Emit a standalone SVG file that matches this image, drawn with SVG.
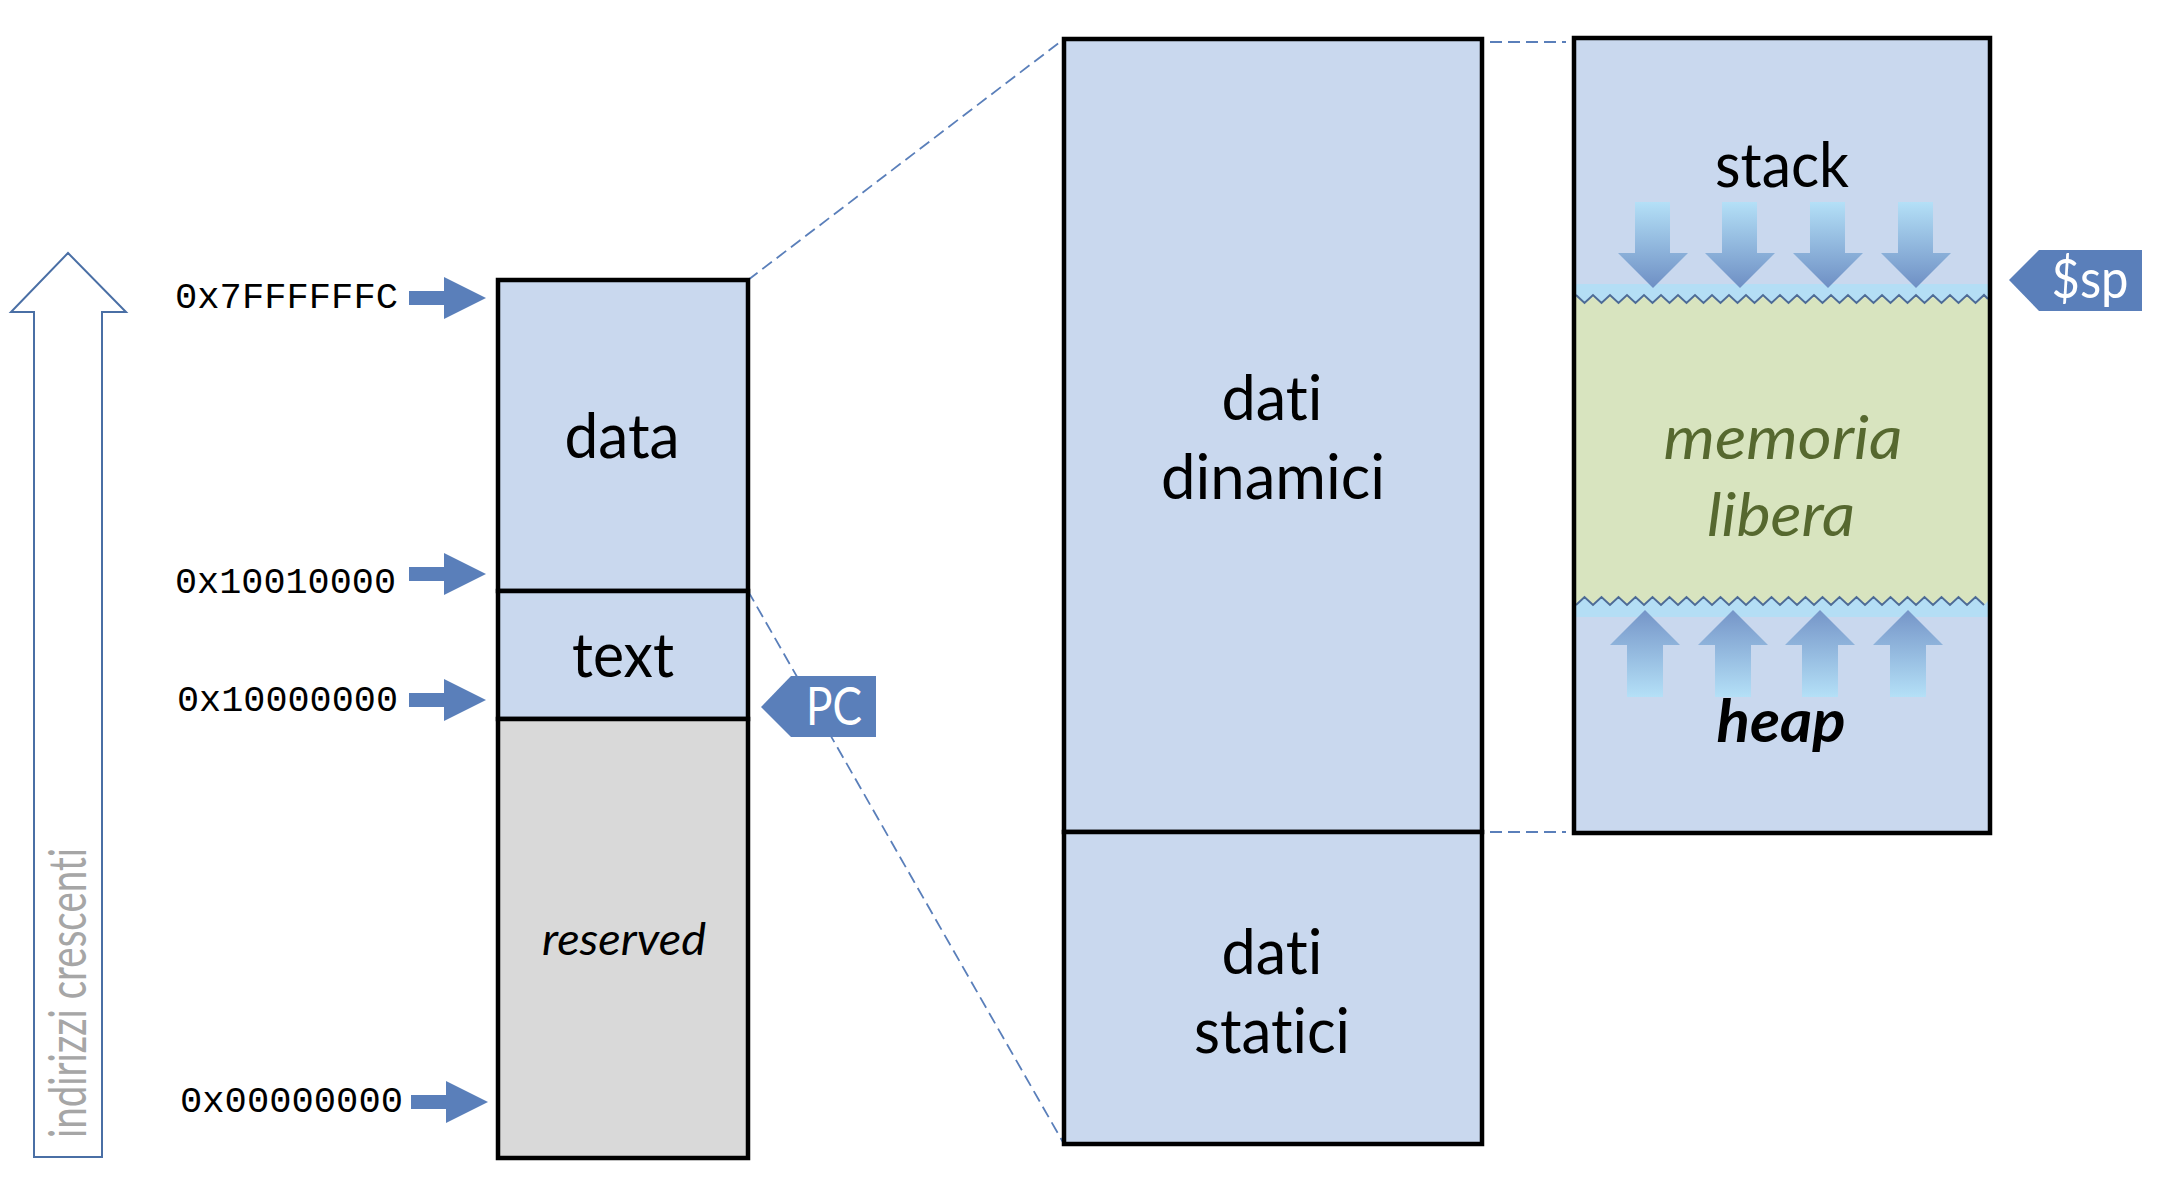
<svg xmlns="http://www.w3.org/2000/svg" width="2172" height="1196" viewBox="0 0 2172 1196">
  <style>
    .box { stroke: #000; stroke-width: 4.5; }
    .blue { fill: #c9d8ee; }
    .gray { fill: #d9d9d9; }
    .lbl { font-family: Lato, "Open Sans", "Liberation Sans", sans-serif; fill: #000; text-anchor: middle; font-variant-ligatures: none; font-feature-settings: "liga" 0, "clig" 0; }
    .addr { font-family: "Liberation Mono", "Courier New", monospace; font-size: 37px; fill: #000; }
    .dash { stroke: #5a7fba; stroke-width: 1.8; stroke-dasharray: 12 6; fill: none; }
    .ptr { fill: #5a7fba; }
    .tag { fill: #5a7fba; }
    .tagtxt { font-family: Lato, "Open Sans", "Liberation Sans", sans-serif; fill: #fff; text-anchor: middle; }
    .wave { fill: none; stroke: #4d6b96; stroke-width: 2; }
  </style>
  <defs>
    <linearGradient id="gDown" x1="0" y1="0" x2="0" y2="1">
      <stop offset="0" stop-color="#b4e0f7"/>
      <stop offset="1" stop-color="#6e8fc4"/>
    </linearGradient>
    <linearGradient id="gUp" x1="0" y1="1" x2="0" y2="0">
      <stop offset="0" stop-color="#b4e0f7"/>
      <stop offset="1" stop-color="#7595c8"/>
    </linearGradient>
    <path id="downArrow" d="M-18,0 H17 V51 H35 L0,86 L-35,51 H-18 Z"/>
    <path id="upArrow" d="M0,0 L35,35 H18 V87 H-18 V35 H-35 Z"/>
    <path id="ptrShape" d="M0,-7 H35 V-21 L77,0 L35,21 V7 H0 Z"/>
  </defs>

  <g id="axis">
    <path d="M34,1157 L34,312 L11,312 L68,253 L126,312 L102,312 L102,1157 Z" fill="#fff" stroke="#4a6fa5" stroke-width="2"/>
    <text x="86" y="993" transform="rotate(-90 86 993)" class="lbl" style="font-size:52px; fill:#a6a6a6" textLength="290" lengthAdjust="spacingAndGlyphs">indirizzi crescenti</text>
  </g>

  <g id="connectors">
    <line class="dash" x1="748" y1="280" x2="1064" y2="39"/>
    <line class="dash" x1="748" y1="591" x2="1064" y2="1144"/>
    <line class="dash" x1="1490" y1="42" x2="1566" y2="42"/>
    <line class="dash" x1="1490" y1="832" x2="1566" y2="832"/>
    <use href="#ptrShape" class="ptr" x="409" y="298"/>
    <use href="#ptrShape" class="ptr" x="409" y="574"/>
    <use href="#ptrShape" class="ptr" x="409" y="700"/>
    <use href="#ptrShape" class="ptr" x="411" y="1102"/>
  </g>

  <g id="addresses">
    <text class="addr" x="175" y="308" textLength="223" lengthAdjust="spacingAndGlyphs">0x7FFFFFFC</text>
    <text class="addr" x="175" y="593" textLength="221" lengthAdjust="spacingAndGlyphs">0x10010000</text>
    <text class="addr" x="177" y="711" textLength="221" lengthAdjust="spacingAndGlyphs">0x10000000</text>
    <text class="addr" x="180" y="1112" textLength="223" lengthAdjust="spacingAndGlyphs">0x00000000</text>
  </g>

  <g id="node-data">
    <rect class="box blue" x="498" y="280" width="250" height="311"/>
    <text class="lbl" x="622" y="458" style="font-size:62px" textLength="115" lengthAdjust="spacingAndGlyphs">data</text>
  </g>
  <g id="node-text">
    <rect class="box blue" x="498" y="591" width="250" height="128"/>
    <text class="lbl" x="623" y="677" style="font-size:62px" textLength="102" lengthAdjust="spacingAndGlyphs">text</text>
  </g>
  <g id="node-reserved">
    <rect class="box gray" x="498" y="719" width="250" height="439"/>
    <text class="lbl" x="624" y="955" style="font-size:44px; font-style:italic" textLength="164" lengthAdjust="spacingAndGlyphs">reserved</text>
  </g>

  <g id="node-pc">
    <path class="tag" d="M761,707 L791,676 H876 V737 H791 Z"/>
    <text class="tagtxt" x="834" y="725" style="font-size:52px" textLength="56" lengthAdjust="spacingAndGlyphs">PC</text>
  </g>

  <g id="node-dati-dinamici">
    <rect class="box blue" x="1064" y="39" width="418" height="793"/>
    <text class="lbl" x="1272" y="420" style="font-size:62px" textLength="101" lengthAdjust="spacingAndGlyphs">dati</text>
    <text class="lbl" x="1273" y="499" style="font-size:62px" textLength="224" lengthAdjust="spacingAndGlyphs">dinamici</text>
  </g>
  <g id="node-dati-statici">
    <rect class="box blue" x="1064" y="832" width="418" height="312"/>
    <text class="lbl" x="1272" y="974" style="font-size:62px" textLength="101" lengthAdjust="spacingAndGlyphs">dati</text>
    <text class="lbl" x="1272" y="1053" style="font-size:62px" textLength="156" lengthAdjust="spacingAndGlyphs">statici</text>
  </g>

  <g id="node-stack-heap">
    <rect class="blue" x="1574" y="38" width="416" height="795"/>
    <rect x="1576" y="284" width="412" height="26" fill="#b4def5"/>
    <rect x="1576" y="590" width="412" height="27" fill="#b4def5"/>
    <path fill="#d8e4bf" d="M1576,295 l8.5,8 8.5,-8 8.5,8 8.5,-8 8.5,8 8.5,-8 8.5,8 8.5,-8 8.5,8 8.5,-8 8.5,8 8.5,-8 8.5,8 8.5,-8 8.5,8 8.5,-8 8.5,8 8.5,-8 8.5,8 8.5,-8 8.5,8 8.5,-8 8.5,8 8.5,-8 8.5,8 8.5,-8 8.5,8 8.5,-8 8.5,8 8.5,-8 8.5,8 8.5,-8 8.5,8 8.5,-8 8.5,8 8.5,-8 8.5,8 8.5,-8 8.5,8 8.5,-8 8.5,8 8.5,-8 8.5,8 8.5,-8 8.5,8 8.5,-8 8.5,8 8.5,-8 L1988,299 L1988,601 L1984,605 l-8.5,-8 -8.5,8 -8.5,-8 -8.5,8 -8.5,-8 -8.5,8 -8.5,-8 -8.5,8 -8.5,-8 -8.5,8 -8.5,-8 -8.5,8 -8.5,-8 -8.5,8 -8.5,-8 -8.5,8 -8.5,-8 -8.5,8 -8.5,-8 -8.5,8 -8.5,-8 -8.5,8 -8.5,-8 -8.5,8 -8.5,-8 -8.5,8 -8.5,-8 -8.5,8 -8.5,-8 -8.5,8 -8.5,-8 -8.5,8 -8.5,-8 -8.5,8 -8.5,-8 -8.5,8 -8.5,-8 -8.5,8 -8.5,-8 -8.5,8 -8.5,-8 -8.5,8 -8.5,-8 -8.5,8 -8.5,-8 -8.5,8 -8.5,-8 -8.5,8 Z"/>
    <path class="wave" d="M1576,295 l8.5,8 8.5,-8 8.5,8 8.5,-8 8.5,8 8.5,-8 8.5,8 8.5,-8 8.5,8 8.5,-8 8.5,8 8.5,-8 8.5,8 8.5,-8 8.5,8 8.5,-8 8.5,8 8.5,-8 8.5,8 8.5,-8 8.5,8 8.5,-8 8.5,8 8.5,-8 8.5,8 8.5,-8 8.5,8 8.5,-8 8.5,8 8.5,-8 8.5,8 8.5,-8 8.5,8 8.5,-8 8.5,8 8.5,-8 8.5,8 8.5,-8 8.5,8 8.5,-8 8.5,8 8.5,-8 8.5,8 8.5,-8 8.5,8 8.5,-8 8.5,8 8.5,-8 L1988,299"/>
    <path class="wave" d="M1984,605 l-8.5,-8 -8.5,8 -8.5,-8 -8.5,8 -8.5,-8 -8.5,8 -8.5,-8 -8.5,8 -8.5,-8 -8.5,8 -8.5,-8 -8.5,8 -8.5,-8 -8.5,8 -8.5,-8 -8.5,8 -8.5,-8 -8.5,8 -8.5,-8 -8.5,8 -8.5,-8 -8.5,8 -8.5,-8 -8.5,8 -8.5,-8 -8.5,8 -8.5,-8 -8.5,8 -8.5,-8 -8.5,8 -8.5,-8 -8.5,8 -8.5,-8 -8.5,8 -8.5,-8 -8.5,8 -8.5,-8 -8.5,8 -8.5,-8 -8.5,8 -8.5,-8 -8.5,8 -8.5,-8 -8.5,8 -8.5,-8 -8.5,8 -8.5,-8 -8.5,8"/>
    <use href="#downArrow" x="1653" y="202" fill="url(#gDown)"/>
    <use href="#downArrow" x="1740" y="202" fill="url(#gDown)"/>
    <use href="#downArrow" x="1828" y="202" fill="url(#gDown)"/>
    <use href="#downArrow" x="1916" y="202" fill="url(#gDown)"/>
    <use href="#upArrow" x="1645" y="610" fill="url(#gUp)"/>
    <use href="#upArrow" x="1733" y="610" fill="url(#gUp)"/>
    <use href="#upArrow" x="1820" y="610" fill="url(#gUp)"/>
    <use href="#upArrow" x="1908" y="610" fill="url(#gUp)"/>
    <rect class="box" fill="none" x="1574" y="38" width="416" height="795"/>
    <text class="lbl" x="1782" y="187" style="font-size:61px" textLength="134" lengthAdjust="spacingAndGlyphs">stack</text>
    <text class="lbl" x="1783" y="459" style="font-size:60px; font-style:italic; fill:#56682f" textLength="239" lengthAdjust="spacingAndGlyphs">memoria</text>
    <text class="lbl" x="1781" y="536" style="font-size:60px; font-style:italic; fill:#56682f" textLength="148" lengthAdjust="spacingAndGlyphs">libera</text>
    <text class="lbl" x="1781" y="742" style="font-size:60px; font-style:italic; font-weight:bold" textLength="129" lengthAdjust="spacingAndGlyphs">heap</text>
  </g>

  <g id="node-sp">
    <path class="tag" d="M2009,280 L2039,250 H2142 V311 H2039 Z"/>
    <text class="tagtxt" x="2090" y="298" style="font-size:54px" textLength="77" lengthAdjust="spacingAndGlyphs">$sp</text>
  </g>
</svg>
